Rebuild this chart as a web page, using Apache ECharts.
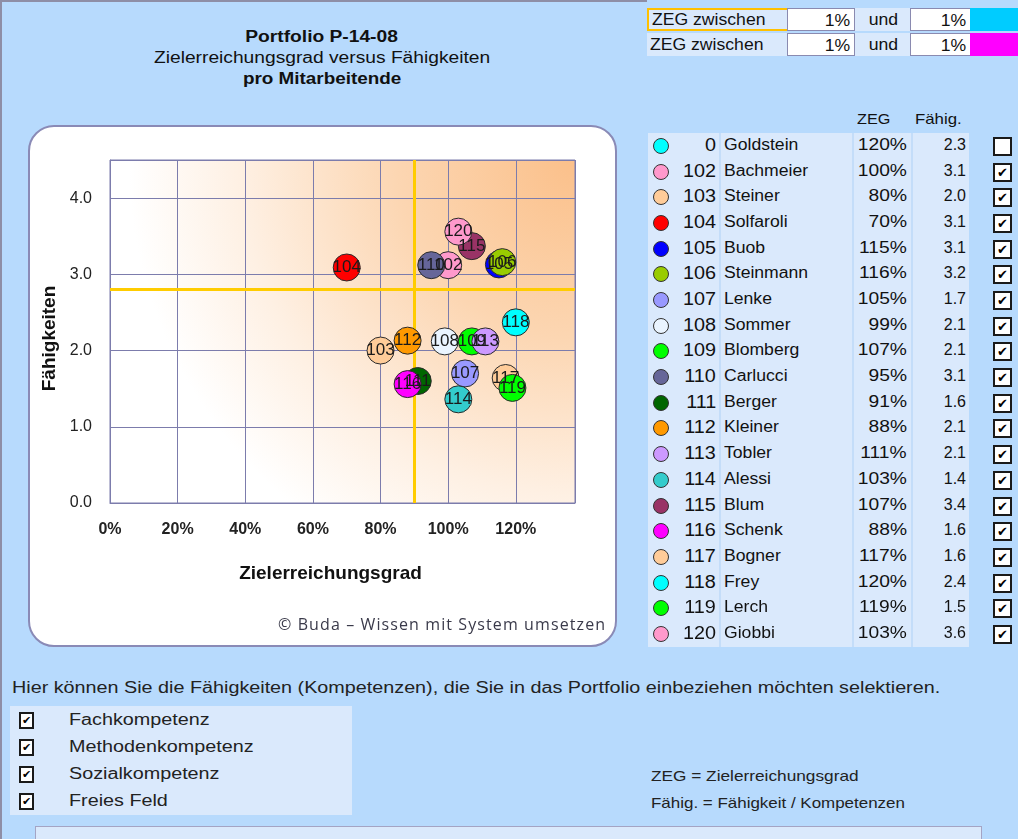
<!DOCTYPE html>
<html>
<head>
<meta charset="utf-8">
<script src="https://cdn.jsdelivr.net/npm/echarts@6/dist/echarts.min.js"></script>
<style>
  html, body { margin: 0; padding: 0; }
  body {
    width: 1018px; height: 839px; overflow: hidden; position: relative;
    background: #b7dafd; font-family: 'Liberation Sans', Arial, sans-serif; color: #111;
  }
  .abs { position: absolute; white-space: nowrap; }
  .sx { display: inline-block; white-space: nowrap; }
  #frame { position: absolute; left: 0; top: 0; width: 1018px; height: 839px;
    border-left: 2px solid #8e8ea6; box-sizing: border-box; }
  #topline { position: absolute; left: 0; top: 0; width: 647px; height: 2px; background: #8e8ea6; }
  #chart {
    position: absolute; left: 28px; top: 125px; width: 585px; height: 518px;
    border: 2px solid #8a8ab6; border-radius: 26px; background: #fff;
  }
  .title { left: 122px; width: 400px; text-align: center; font-size: 16px; }
  .cell { position: absolute; height: 23px; line-height: 23px; font-size: 16px; box-sizing: border-box; }
  .light { background: #dae9fc; }
  .white { background: #fff; border: 1px solid #8a8ab0; text-align: right; padding-right: 4px; }
  .dot { position: absolute; width: 14px; height: 14px; border-radius: 50%; border: 1px solid #333; }
  .cb { position: absolute; width: 19px; height: 19px; border: 2px solid #1a1a1a; background: #fff;
    box-sizing: border-box; font-family: 'DejaVu Sans'; font-size: 13px; font-weight: bold;
    line-height: 15px; text-align: center; color: #000; }
  .cbs { position: absolute; width: 15px; height: 17px; border: 2px solid #1a1a1a; background: #fff;
    box-sizing: border-box; font-family: 'DejaVu Sans'; font-size: 11px; font-weight: bold;
    line-height: 13px; text-align: center; color: #000; }
</style>
</head>
<body>
<div id="frame"></div>
<div id="topline"></div>

<div class="abs title" style="top:28px;font-weight:bold;"><span class="sx" style="transform:scaleX(1.2)">Portfolio P-14-08</span></div>
<div class="abs title" style="top:49px;"><span class="sx" style="transform:scaleX(1.2)">Zielerreichungsgrad versus Fähigkeiten</span></div>
<div class="abs title" style="top:70px;font-weight:bold;"><span class="sx" style="transform:scaleX(1.18)">pro Mitarbeitende</span></div>

<div id="zegBox"></div>

<div id="chart"></div>
<div class="abs" style="left:278px;top:613px;font-family:'Open Sans';font-size:16px;color:#3a3a4a;letter-spacing:1.1px;">© Buda – Wissen mit System umsetzen</div>

<div class="abs" style="left:857px;top:110px;font-size:15px;"><span class="sx" style="transform:scaleX(1.08);transform-origin:left">ZEG</span></div>
<div class="abs" style="left:915px;top:110px;font-size:15px;"><span class="sx" style="transform:scaleX(1.12);transform-origin:left">Fähig.</span></div>
<div class="abs light" style="left:648px;top:133px;width:321px;height:514px;"></div>
<div class="abs" style="left:719px;top:133px;width:2px;height:514px;background:#c4ddf9;"></div>
<div class="abs" style="left:852px;top:133px;width:2px;height:514px;background:#c4ddf9;"></div>
<div class="abs" style="left:911px;top:133px;width:2px;height:514px;background:#c4ddf9;"></div>
<div id="table"></div>

<div class="abs" style="left:12px;top:679px;font-size:16px;color:#222;"><span class="sx" style="transform:scaleX(1.235);transform-origin:left">Hier können Sie die Fähigkeiten (Kompetenzen), die Sie in das Portfolio einbeziehen möchten selektieren.</span></div>
<div class="abs light" style="left:10px;top:706px;width:342px;height:109px;"></div>
<div id="skills"></div>
<div class="abs" style="left:651px;top:767px;font-size:15px;color:#222;"><span class="sx" style="transform:scaleX(1.15);transform-origin:left">ZEG = Zielerreichungsgrad</span></div>
<div class="abs" style="left:651px;top:794px;font-size:15px;color:#222;"><span class="sx" style="transform:scaleX(1.13);transform-origin:left">Fähig. = Fähigkeit / Kompetenzen</span></div>
<div class="abs light" style="left:35px;top:826px;width:945px;height:20px;border:1px solid #a4a4c4;"></div>

<script>
// Mitarbeitende
const ids = [0, 102, 103, 104, 105, 106, 107, 108, 109, 110, 111, 112, 113, 114, 115, 116, 117, 118, 119, 120];
const names = ['Goldstein', 'Bachmeier', 'Steiner', 'Solfaroli', 'Buob', 'Steinmann', 'Lenke', 'Sommer',
  'Blomberg', 'Carlucci', 'Berger', 'Kleiner', 'Tobler', 'Alessi', 'Blum', 'Schenk', 'Bogner', 'Frey',
  'Lerch', 'Giobbi'];
const zeg = [1.20, 1.00, 0.80, 0.70, 1.15, 1.16, 1.05, 0.99, 1.07, 0.95, 0.91, 0.88, 1.11, 1.03, 1.07,
  0.88, 1.17, 1.20, 1.19, 1.03];
const faehig = [2.3, 3.12, 2.0, 3.09, 3.13, 3.16, 1.7, 2.12, 2.12, 3.12, 1.6, 2.13, 2.12, 1.36, 3.37,
  1.56, 1.64, 2.37, 1.51, 3.56];
const colors = ['#00ffff', '#ff99cc', '#ffcc99', '#ff0000', '#0000ff', '#99cc00', '#9999ff', '#eaf4ff',
  '#00ff00', '#666699', '#006600', '#ff9900', '#cc99ff', '#33cccc', '#993366', '#ff00ff', '#ffcc99',
  '#00ffff', '#00ff00', '#ff99cc'];
const selected = [false, true, true, true, true, true, true, true, true, true, true, true, true, true,
  true, true, true, true, true, true];

// Schwellen (goldene Linien)
const zegLimit = 0.9;
const faehigLimit = 2.8;

// ZEG-Filter oben rechts
const zegRows = [['ZEG zwischen', '1%', 'und', '1%', '#00ccff'], ['ZEG zwischen', '1%', 'und', '1%', '#ff00ff']];
const skills = ['Fachkompetenz', 'Methodenkompetenz', 'Sozialkompetenz', 'Freies Feld'];

function pct(v) {
  return Math.round(v * 100) + '%';
}
function sx(text, s, origin) {
  return '<span class="sx" style="transform:scaleX(' + s + ');transform-origin:' + origin + '">' + text + '</span>';
}

// top right filter cells
let html = '';
zegRows.forEach((r, i) => {
  const top = 8 + i * 24.5;
  const sel = i === 0 ? 'border:2px solid #ffc000;border-right:none;' : '';
  html += '<div class="cell light" style="left:647px;top:' + top + 'px;width:140px;padding-left:3px;' + sel + 'line-height:' + (i === 0 ? 19 : 23) + 'px;">' + sx(r[0], 1.1, 'left') + '</div>';
  html += '<div class="cell white" style="left:787px;top:' + top + 'px;width:68px;">' + sx(r[1], 1.1, 'right') + '</div>';
  html += '<div class="cell light" style="left:855px;top:' + top + 'px;width:56px;text-align:center;">' + sx(r[2], 1.1, 'center') + '</div>';
  html += '<div class="cell white" style="left:910px;top:' + top + 'px;width:61px;">' + sx(r[3], 1.1, 'right') + '</div>';
  html += '<div class="cell" style="left:970px;top:' + top + 'px;width:48px;background:' + r[4] + ';"></div>';
});
document.getElementById('zegBox').innerHTML = html;

// right table
html = '';
ids.forEach((id, i) => {
  const cy = 146 + i * 25.68;
  html += '<div class="dot" style="left:653px;top:' + (cy - 8) + 'px;background:' + colors[i] + ';"></div>';
  html += '<div class="abs" style="left:660px;width:56px;text-align:right;top:' + (cy - 11) + 'px;font-size:18px;">' + sx(id, 1.1, 'right') + '</div>';
  html += '<div class="abs" style="left:724px;top:' + (cy - 10) + 'px;font-size:16px;">' + sx(names[i], 1.1, 'left') + '</div>';
  html += '<div class="abs" style="left:850px;width:57px;text-align:right;top:' + (cy - 10) + 'px;font-size:16px;">' + sx(pct(zeg[i]), 1.2, 'right') + '</div>';
  html += '<div class="abs" style="left:915px;width:51px;text-align:right;top:' + (cy - 10) + 'px;font-size:16px;">' + faehig[i].toFixed(1) + '</div>';
  html += '<div class="cb" style="left:993px;top:' + (cy - 9) + 'px;">' + (selected[i] ? '✔' : '') + '</div>';
});
document.getElementById('table').innerHTML = html;

// skills checkboxes
html = '';
skills.forEach((s, i) => {
  const cy = 721 + i * 27;
  html += '<div class="cbs" style="left:19px;top:' + (cy - 9) + 'px;">✔</div>';
  html += '<div class="abs" style="left:69px;top:' + (cy - 10) + 'px;font-size:16px;color:#222;">' + sx(s, 1.235, 'left') + '</div>';
});
document.getElementById('skills').innerHTML = html;

const points = [];
ids.forEach((id, i) => {
  if (!selected[i]) return;
  points.push({
    value: [zeg[i], faehig[i], id],
    itemStyle: { color: colors[i] }
  });
});

const chart = echarts.init(document.getElementById('chart'), null, { renderer: 'canvas' });

const gridColor = '#7c7cac';

const option = {
  animation: false,
  backgroundColor: 'transparent',
  textStyle: { fontFamily: "'Liberation Sans', Arial, sans-serif" },
  grid: {
    left: 80,
    top: 33,
    width: 465,
    height: 343,
    show: true,
    borderColor: gridColor,
    borderWidth: 1,
    backgroundColor: new echarts.graphic.RadialGradient(1, 0, 1.3, [
      { offset: 0, color: '#fbc08a' },
      { offset: 0.4, color: '#fcd6b2' },
      { offset: 0.75, color: '#fef0e3' },
      { offset: 1, color: '#ffffff' }
    ])
  },
  xAxis: {
    type: 'value',
    min: 0,
    max: 1.375,
    interval: 0.2,
    name: 'Zielerreichungsgrad',
    nameLocation: 'middle',
    nameGap: 61,
    nameTextStyle: { fontSize: 19, fontWeight: 'bold', color: '#111', padding: [0, 24, 0, 0] },
    axisLine: { show: true, lineStyle: { color: gridColor } },
    axisTick: { show: false },
    axisLabel: {
      margin: 19,
      fontSize: 16,
      fontWeight: 'bold',
      color: '#222',
      showMaxLabel: false,
      formatter: (v) => Math.round(v * 100) + '%'
    },
    splitLine: { show: true, lineStyle: { color: gridColor, width: 1 } }
  },
  yAxis: {
    type: 'value',
    min: 0,
    max: 4.5,
    interval: 1,
    name: 'Fähigkeiten',
    nameLocation: 'middle',
    nameGap: 50,
    nameTextStyle: { fontSize: 19, fontWeight: 'bold', color: '#111', padding: [0, 14, 0, 0] },
    axisLine: { show: true, lineStyle: { color: gridColor } },
    axisTick: { show: false },
    axisLabel: {
      margin: 18,
      fontSize: 16,
      color: '#222',
      showMaxLabel: false,
      formatter: (v) => v.toFixed(1)
    },
    splitLine: { show: true, lineStyle: { color: gridColor, width: 1 } }
  },
  series: [{
    type: 'scatter',
    z: 10,
    symbolSize: 27,
    itemStyle: { borderColor: '#2a2a2a', borderWidth: 1, opacity: 1 },
    label: {
      show: true,
      position: 'inside',
      fontSize: 17,
      color: '#1a1a1a',
      formatter: (p) => p.value[2]
    },
    data: points,
    markLine: {
      z: 3,
      silent: true,
      symbol: 'none',
      label: { show: false },
      lineStyle: { color: '#ffcc00', width: 3, type: 'solid' },
      data: [{ xAxis: zegLimit }, { yAxis: faehigLimit }]
    }
  }]
};

chart.setOption(option);
</script>
</body>
</html>
